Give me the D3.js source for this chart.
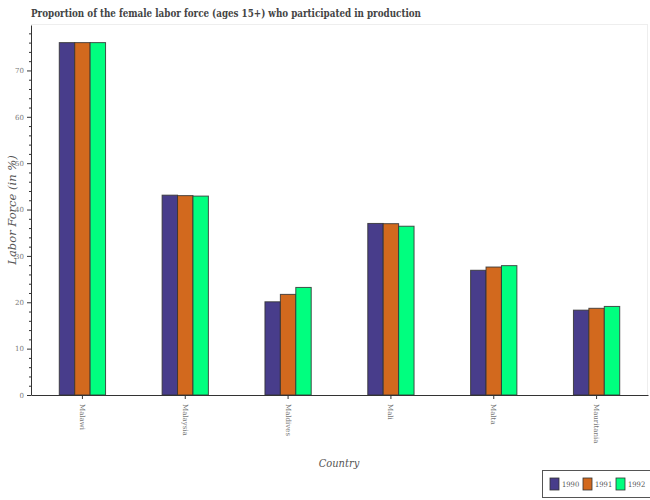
<!DOCTYPE html>
<html>
<head>
<meta charset="utf-8">
<script src="https://cdn.jsdelivr.net/npm/d3@7"></script>
<style>
  body { margin: 0; background: #fff; }
  svg { display: block; }
  .cond { font-stretch: condensed; }
</style>
</head>
<body>
<svg id="chart" width="650" height="500"></svg>
<script>
const countries = ["Malawi", "Malaysia", "Maldives", "Mali", "Malta", "Mauritania"];
const years = ["1990", "1991", "1992"];
const values1990 = [76.0, 43.1, 20.1, 37.0, 26.9, 18.3];
const values1991 = [76.0, 43.0, 21.7, 36.95, 27.6, 18.7];
const values1992 = [76.0, 42.9, 23.2, 36.4, 27.9, 19.1];
const colors = ["#483D8B", "#D2691E", "#00FF7F"];
const yTicks = [0, 10, 20, 30, 40, 50, 60, 70];

const series = [values1990, values1991, values1992];
const svg = d3.select("#chart");
const margin = { left: 31, right: 648, top: 25, bottom: 395 };
const font = "'DejaVu Serif', serif";

const x = d3.scaleBand().domain(countries).range([margin.left, margin.right]);
const yMax = d3.max(series.flat()) * 1.05;
const y = d3.scaleLinear().domain([0, yMax]).range([margin.bottom, margin.top]);

// light frame
svg.append("line").attr("x1", margin.left).attr("x2", margin.right)
  .attr("y1", margin.top - 0.5).attr("y2", margin.top - 0.5)
  .attr("stroke", "#eee").attr("stroke-width", 1);
svg.append("line").attr("x1", margin.right - 0.5).attr("x2", margin.right - 0.5)
  .attr("y1", margin.top).attr("y2", margin.bottom)
  .attr("stroke", "#eee").attr("stroke-width", 1);

// bars
const barW = x.bandwidth() * 0.15;
const groups = svg.append("g");
years.forEach((yr, i) => {
  groups.selectAll(".b" + i)
    .data(countries.map((c, j) => ({ c, v: series[i][j] })))
    .enter().append("rect")
    .attr("x", d => x(d.c) + x.bandwidth() / 2 - 1.5 * barW + i * barW)
    .attr("y", d => y(d.v))
    .attr("width", barW)
    .attr("height", d => y(0) - y(d.v))
    .attr("fill", colors[i])
    .attr("stroke", "#333")
    .attr("stroke-opacity", 0.85)
    .attr("stroke-width", 1);
});

// y axis minor ticks
const minor = d3.range(0, yMax, 2).filter(v => v % 10 !== 0);
svg.append("g").attr("transform", `translate(${margin.left},0)`)
  .selectAll("line").data(minor).enter().append("line")
  .attr("x1", -2).attr("x2", 0)
  .attr("y1", d => y(d) + 0.5).attr("y2", d => y(d) + 0.5)
  .attr("stroke", "#333").attr("stroke-width", 1);

// y axis
const yAxis = svg.append("g").attr("transform", `translate(${margin.left},0)`)
  .call(d3.axisLeft(y).tickValues(yTicks).tickSize(4).tickSizeOuter(0));
yAxis.select(".domain").attr("stroke", "#333");
yAxis.selectAll(".tick line").attr("stroke", "#333");
yAxis.selectAll("text").attr("font-family", font).attr("font-size", 7).attr("fill", "#777");

// x axis
const xAxis = svg.append("g").attr("transform", `translate(0,${margin.bottom})`)
  .call(d3.axisBottom(x).tickSize(4).tickSizeOuter(0));
xAxis.select(".domain").attr("stroke", "#333");
xAxis.selectAll(".tick line").attr("stroke", "#333");
xAxis.selectAll("text")
  .attr("font-family", font).attr("font-size", 7).attr("fill", "#777")
  .attr("transform", "rotate(90)")
  .attr("x", 9).attr("y", 0).attr("dy", "0.35em")
  .attr("text-anchor", "start");

// title
svg.append("text").attr("x", 31).attr("y", 17)
  .attr("font-family", font)
  .attr("font-weight", "bold").attr("font-size", 10.5).attr("fill", "#444")
  .attr("textLength", 390).attr("lengthAdjust", "spacingAndGlyphs")
  .text("Proportion of the female labor force (ages 15+) who participated in production");

// axis titles
svg.append("text").attr("x", 339).attr("y", 467).attr("class", "cond")
  .attr("text-anchor", "middle").attr("font-family", font)
  .attr("font-style", "italic").attr("font-size", 11).attr("fill", "#555")
  .text("Country");
svg.append("text")
  .attr("transform", `translate(16,${(margin.top + margin.bottom) / 2}) rotate(-90)`)
  .attr("text-anchor", "middle").attr("font-family", font)
  .attr("font-style", "italic").attr("font-size", 11.5).attr("fill", "#555")
  .text("Labor Force (in %)");

// legend
const lg = svg.append("g").attr("transform", "translate(542,470)");
lg.append("rect").attr("x", 0.5).attr("y", 0.5).attr("width", 108).attr("height", 27)
  .attr("fill", "#fff").attr("stroke", "#555").attr("stroke-width", 1);
years.forEach((yr, i) => {
  const gx = 8 + i * 33;
  lg.append("rect").attr("x", gx).attr("y", 8).attr("width", 9).attr("height", 12)
    .attr("fill", colors[i]).attr("stroke", "#333").attr("stroke-width", 0.8);
  lg.append("text").attr("x", gx + 12).attr("y", 17).attr("class", "cond")
    .attr("font-family", font).attr("font-size", 7.5).attr("fill", "#555").text(yr);
});
</script>
</body>
</html>
